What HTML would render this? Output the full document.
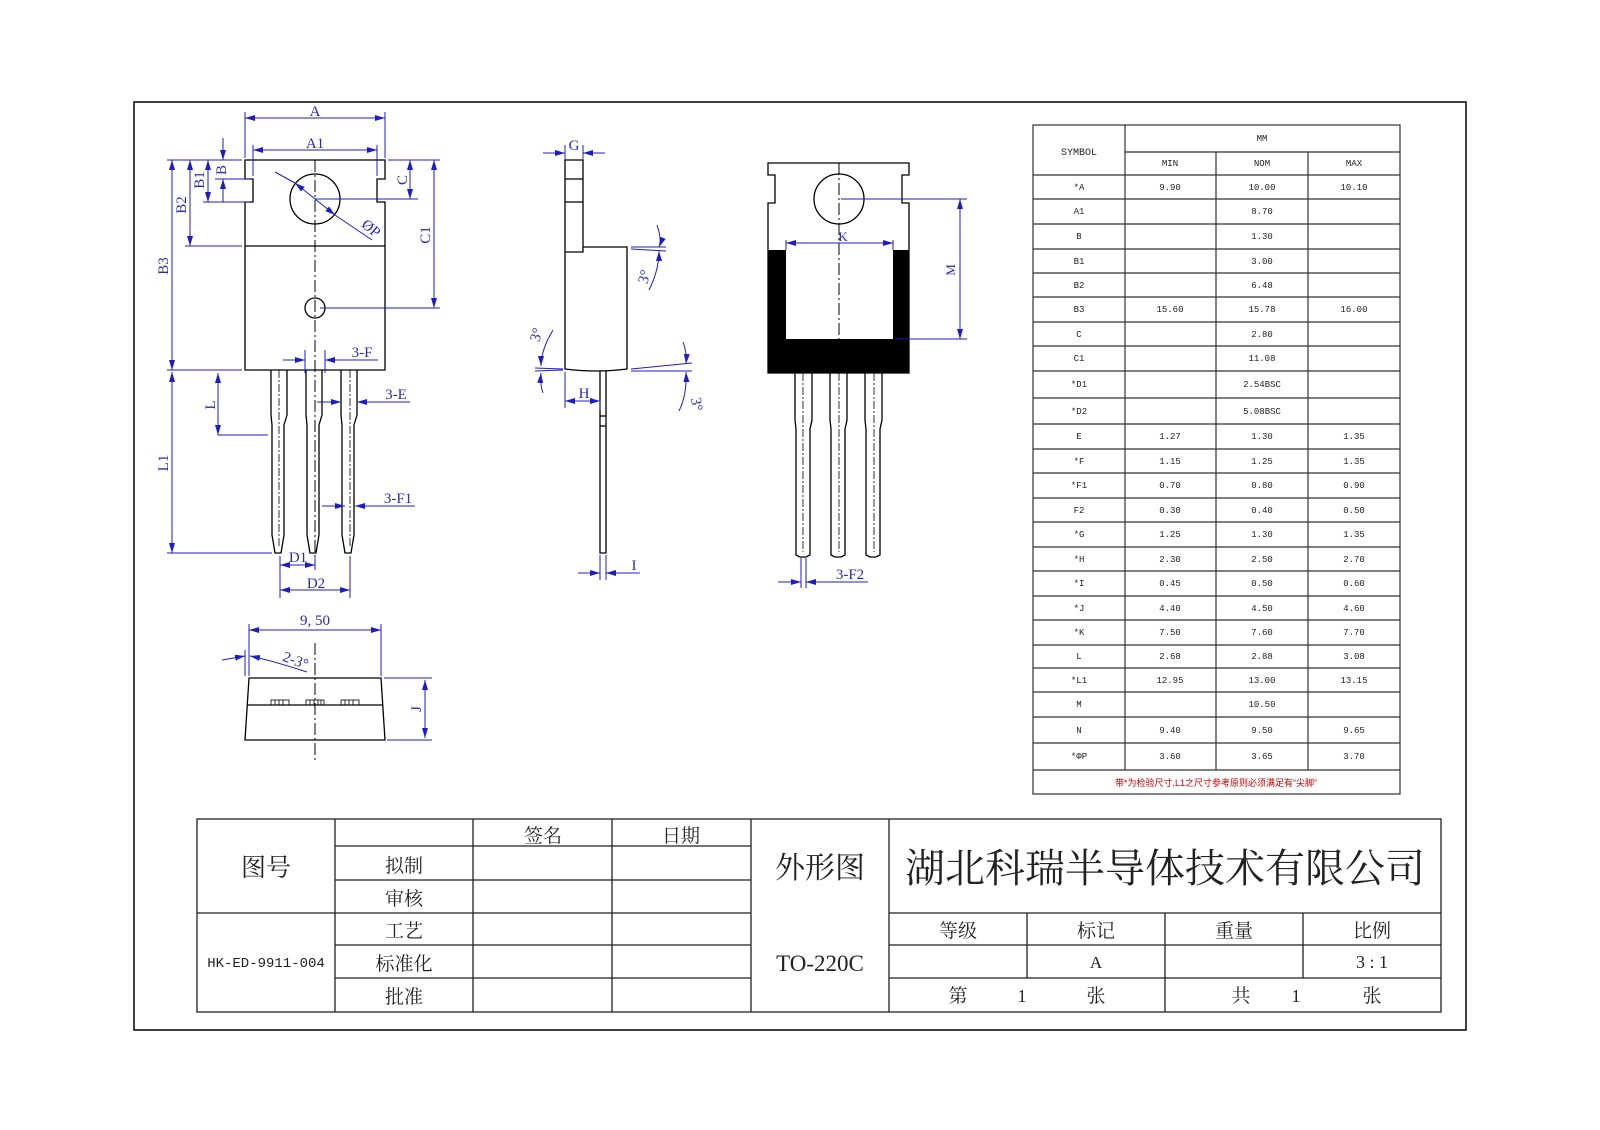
<!DOCTYPE html>
<html><head><meta charset="utf-8"><style>
html,body{margin:0;padding:0;background:#fff}
svg{display:block}
.k{stroke:#000;fill:none;stroke-width:1.3}
.b{stroke:#1c1cc8;fill:none;stroke-width:1}
.bt{fill:#2a2ab8;font-family:"Liberation Serif","Noto Serif CJK SC",serif;font-size:15px}
.c{stroke:#000;stroke-width:1;stroke-dasharray:12 3 2 3;fill:none}
.t{font-family:"Liberation Mono","Noto Sans CJK SC",monospace;font-size:9px;fill:#222;text-anchor:middle}
.z{font-family:"Liberation Serif","Noto Serif CJK SC",serif;fill:#222;text-anchor:middle}
</style></head><body>
<svg width="1600" height="1130" viewBox="0 0 1600 1130" xmlns="http://www.w3.org/2000/svg">
<defs>
<marker id="a" viewBox="0 0 10 6" refX="10" refY="3" markerWidth="10" markerHeight="6" orient="auto-start-reverse" markerUnits="userSpaceOnUse"><path d="M0,0 L10,3 L0,6z" fill="#1c1cc8"/></marker>
</defs>
<rect x="134" y="102" width="1332" height="928" fill="none" stroke="#000" stroke-width="1.5"/>

<!-- FRONT VIEW -->
<path class="k" d="M245,160 H385 V179 H377 V202 H385 V370 H245 V202 H253 V179 H245 Z"/>
<line class="k" x1="245" y1="246" x2="385" y2="246"/>
<circle class="k" cx="315" cy="199" r="25"/>
<circle class="k" cx="315" cy="308" r="10"/>
<line class="c" x1="315" y1="160" x2="315" y2="560"/>
<g class="k">
<path d="M271,370 V415 L272,425 V535 L275,553 H281 L284,535 V425 L287,415 V370"/>
<path d="M306,370 V415 L307,425 V535 L310,553 H316 L319,535 V425 L322,415 V370"/>
<path d="M341,370 V415 L342,425 V535 L345,553 H351 L354,535 V425 L357,415 V370"/>
</g>
<g stroke="#000" stroke-width="0.8" stroke-dasharray="8 2 2 2"><line x1="279" y1="370" x2="279" y2="548"/><line x1="350" y1="370" x2="350" y2="548"/></g>
<!-- front dims -->
<g class="b">
<line x1="245" y1="112" x2="245" y2="158"/><line x1="385" y1="112" x2="385" y2="158"/>
<line x1="245" y1="118" x2="385" y2="118" marker-start="url(#a)" marker-end="url(#a)"/>
<line x1="253" y1="145" x2="253" y2="176"/><line x1="377" y1="145" x2="377" y2="176"/>
<line x1="253" y1="150" x2="377" y2="150" marker-start="url(#a)" marker-end="url(#a)"/>
<line x1="167" y1="160" x2="242" y2="160"/><line x1="215" y1="179" x2="250" y2="179"/><line x1="203" y1="202" x2="250" y2="202"/><line x1="185" y1="246" x2="242" y2="246"/><line x1="167" y1="370" x2="242" y2="370"/>
<line x1="223" y1="138" x2="223" y2="160" marker-end="url(#a)"/><line x1="223" y1="202" x2="223" y2="179" marker-end="url(#a)"/>
<line x1="208" y1="160" x2="208" y2="202" marker-start="url(#a)" marker-end="url(#a)"/>
<line x1="190" y1="160" x2="190" y2="246" marker-start="url(#a)" marker-end="url(#a)"/>
<line x1="172" y1="160" x2="172" y2="370" marker-start="url(#a)" marker-end="url(#a)"/>
<line x1="388" y1="160" x2="440" y2="160"/><line x1="315" y1="199" x2="418" y2="199"/><line x1="320" y1="308" x2="440" y2="308"/>
<line x1="410" y1="160" x2="410" y2="199" marker-start="url(#a)" marker-end="url(#a)"/>
<line x1="434" y1="160" x2="434" y2="308" marker-start="url(#a)" marker-end="url(#a)"/>
<line x1="275" y1="172" x2="295" y2="183"/><line x1="295" y1="183" x2="335" y2="215" marker-start="url(#a)" marker-end="url(#a)"/><line x1="335" y1="215" x2="372" y2="240"/>
<line x1="305" y1="350" x2="305" y2="373"/><line x1="325" y1="350" x2="325" y2="373"/>
<line x1="283" y1="360" x2="305" y2="360" marker-end="url(#a)"/><line x1="350" y1="360" x2="325" y2="360" marker-end="url(#a)"/><line x1="325" y1="360" x2="378" y2="360"/>
<line x1="218" y1="373" x2="218" y2="435" marker-start="url(#a)" marker-end="url(#a)"/><line x1="218" y1="435" x2="268" y2="435"/>
<line x1="317" y1="402" x2="341" y2="402" marker-end="url(#a)"/><line x1="410" y1="402" x2="357" y2="402" marker-end="url(#a)"/>
<line x1="322" y1="506" x2="345" y2="506" marker-end="url(#a)"/><line x1="415" y1="506" x2="355" y2="506" marker-end="url(#a)"/>
<line x1="167" y1="553" x2="272" y2="553"/>
<line x1="172" y1="372" x2="172" y2="553" marker-start="url(#a)" marker-end="url(#a)"/>
<line x1="280" y1="556" x2="280" y2="598"/><line x1="315" y1="556" x2="315" y2="570"/><line x1="350" y1="556" x2="350" y2="598"/>
<line x1="280" y1="565" x2="315" y2="565" marker-start="url(#a)" marker-end="url(#a)"/>
<line x1="280" y1="590" x2="350" y2="590" marker-start="url(#a)" marker-end="url(#a)"/>
</g>
<g class="bt">
<text x="315" y="116" text-anchor="middle">A</text>
<text x="315" y="148" text-anchor="middle">A1</text>
<text x="220" y="176" transform="rotate(-90 220 170)" text-anchor="middle">B</text>
<text x="204" y="180" transform="rotate(-90 204 180)" text-anchor="middle">B1</text>
<text x="186" y="205" transform="rotate(-90 186 205)" text-anchor="middle">B2</text>
<text x="168" y="266" transform="rotate(-90 168 266)" text-anchor="middle">B3</text>
<text x="407" y="180" transform="rotate(-90 407 180)" text-anchor="middle">C</text>
<text x="430" y="235" transform="rotate(-90 430 235)" text-anchor="middle">C1</text>
<text x="368" y="232" transform="rotate(40 368 232)" text-anchor="middle">ØP</text>
<text x="362" y="357" text-anchor="middle">3-F</text>
<text x="396" y="399" text-anchor="middle">3-E</text>
<text x="398" y="503" text-anchor="middle">3-F1</text>
<text x="215" y="405" transform="rotate(-90 215 405)" text-anchor="middle">L</text>
<text x="168" y="463" transform="rotate(-90 168 463)" text-anchor="middle">L1</text>
<text x="298" y="562" text-anchor="middle">D1</text>
<text x="316" y="588" text-anchor="middle">D2</text>
<text x="315" y="625" text-anchor="middle">9, 50</text>
<text x="294" y="665" transform="rotate(20 294 665)" text-anchor="middle">2-3°</text>
<text x="421" y="709" transform="rotate(-90 421 709)" text-anchor="middle">J</text>
</g>

<!-- BOTTOM VIEW -->
<path class="k" d="M249,678 H381 L385,740 H245 Z"/>
<line class="k" x1="247" y1="705" x2="383" y2="705" stroke-width="0.8"/>
<g stroke="#000" stroke-width="0.8" fill="none">
<rect x="271" y="700" width="18" height="5"/><rect x="306" y="700" width="18" height="5"/><rect x="341" y="700" width="18" height="5"/>
<path d="M275,700v5M279,700v5M283,700v5M310,700v5M314,700v5M318,700v5M321,700v5M345,700v5M349,700v5M353,700v5"/>
</g>
<line class="c" x1="315" y1="643" x2="315" y2="763"/>
<g class="b">
<line x1="249" y1="624" x2="249" y2="676"/><line x1="381" y1="624" x2="381" y2="676"/><line x1="245" y1="650" x2="245" y2="676"/>
<line x1="249" y1="630" x2="381" y2="630" marker-start="url(#a)" marker-end="url(#a)"/>
<line x1="222" y1="660" x2="245" y2="656" marker-end="url(#a)"/><path d="M250,656 Q270,660 307,672" marker-start="url(#a)"/>
<line x1="384" y1="678" x2="432" y2="678"/><line x1="387" y1="740" x2="432" y2="740"/>
<line x1="425" y1="680" x2="425" y2="738" marker-start="url(#a)" marker-end="url(#a)"/>
</g>

<!-- SIDE VIEW -->
<path class="k" d="M565,160 H583 V252 H565 Z"/>
<line class="k" x1="565" y1="179" x2="583" y2="179"/><line class="k" x1="565" y1="202" x2="583" y2="202"/>
<path class="k" d="M565,252 V369 Q596,373 627,369 V247 H583"/>
<path class="k" d="M600,371 V553 H606 V371"/>
<line class="k" x1="600" y1="416" x2="606" y2="416" stroke-width="0.8"/><line class="k" x1="600" y1="426" x2="606" y2="426" stroke-width="0.8"/>
<g class="b">
<line x1="543" y1="153" x2="565" y2="153" marker-end="url(#a)"/><line x1="605" y1="153" x2="583" y2="153" marker-end="url(#a)"/>
<line x1="565" y1="145" x2="565" y2="160"/><line x1="583" y1="145" x2="583" y2="160"/>
<line x1="631" y1="247" x2="666" y2="247"/><line x1="631" y1="249" x2="666" y2="251"/>
<path d="M657,225 Q662,240 659,247" marker-end="url(#a)"/><path d="M649,290 Q659,270 659,251" marker-end="url(#a)"/>
<line x1="535" y1="368" x2="563" y2="369"/><line x1="535" y1="371" x2="563" y2="370"/>
<path d="M553,330 Q541,350 541,366" marker-end="url(#a)"/><path d="M543,393 Q540,385 541,373" marker-end="url(#a)"/>
<line x1="631" y1="369" x2="692" y2="363"/><line x1="631" y1="371" x2="692" y2="371"/>
<path d="M683,342 Q687,352 686,364" marker-end="url(#a)"/><path d="M679,411 Q687,395 686,372" marker-end="url(#a)"/>
<line x1="565" y1="372" x2="565" y2="408"/><line x1="600" y1="400" x2="600" y2="410"/>
<line x1="565" y1="401" x2="600" y2="401" marker-start="url(#a)" marker-end="url(#a)"/>
<line x1="600" y1="555" x2="600" y2="580"/><line x1="606" y1="555" x2="606" y2="580"/>
<line x1="578" y1="573" x2="600" y2="573" marker-end="url(#a)"/><line x1="640" y1="573" x2="606" y2="573" marker-end="url(#a)"/>
</g>
<g class="bt">
<text x="574" y="150" text-anchor="middle">G</text>
<text x="649" y="278" transform="rotate(-75 649 278)" text-anchor="middle">3°</text>
<text x="541" y="336" transform="rotate(-75 541 336)" text-anchor="middle">3°</text>
<text x="692" y="405" transform="rotate(80 692 405)" text-anchor="middle">3°</text>
<text x="584" y="398" text-anchor="middle">H</text>
<text x="634" y="570" text-anchor="middle">I</text>
</g>

<!-- BACK VIEW -->
<path class="k" d="M768,163 H909 V175 H902 V203 H909 V373 H768 V203 H775 V175 H768 Z"/>
<circle class="k" cx="839" cy="199" r="25"/>
<path d="M768,250 H786 V339 H893 V250 H909 V373 H768 Z" fill="#000"/>
<line class="c" x1="839" y1="163" x2="839" y2="339"/>
<g class="k">
<path d="M795,373 V420 L796,429 V555 L800,557 H806 L810,555 V429 L812,420 V373"/>
<path d="M830,373 V420 L831,429 V555 L835,557 H841 L845,555 V429 L847,420 V373"/>
<path d="M865,373 V420 L866,429 V555 L870,557 H876 L880,555 V429 L882,420 V373"/>
</g>
<g stroke="#000" stroke-width="0.8" stroke-dasharray="8 2 2 2"><line x1="803" y1="373" x2="803" y2="552"/><line x1="839" y1="373" x2="839" y2="552"/><line x1="874" y1="373" x2="874" y2="552"/></g>
<g class="b">
<line x1="786" y1="243" x2="893" y2="243" marker-start="url(#a)" marker-end="url(#a)"/>
<line x1="786" y1="240" x2="786" y2="250"/><line x1="893" y1="240" x2="893" y2="250"/>
<line x1="841" y1="199" x2="967" y2="199"/><line x1="895" y1="339" x2="967" y2="339"/>
<line x1="960" y1="199" x2="960" y2="339" marker-start="url(#a)" marker-end="url(#a)"/>
<line x1="801" y1="558" x2="801" y2="588"/><line x1="806" y1="558" x2="806" y2="588"/>
<line x1="778" y1="582" x2="801" y2="582" marker-end="url(#a)"/><line x1="868" y1="582" x2="806" y2="582" marker-end="url(#a)"/>
</g>
<g class="bt">
<text x="843" y="241" text-anchor="middle" font-size="13">K</text>
<text x="955" y="270" transform="rotate(-90 955 270)" text-anchor="middle" font-size="13">M</text>
<text x="850" y="579" text-anchor="middle">3-F2</text>
</g>

<!-- TABLE -->
<g stroke="#333" stroke-width="1.2" fill="none">
<rect x="1033" y="125" width="367" height="669"/>
<line x1="1125" y1="125" x2="1125" y2="770"/>
<line x1="1125" y1="152" x2="1400" y2="152"/>
<line x1="1216" y1="152" x2="1216" y2="770"/><line x1="1308" y1="152" x2="1308" y2="770"/>
<path d="M1033,175H1400M1033,199H1400M1033,224H1400M1033,249H1400M1033,273H1400M1033,297H1400M1033,322H1400M1033,346H1400M1033,371H1400M1033,398H1400M1033,424H1400M1033,449H1400M1033,473H1400M1033,498H1400M1033,522H1400M1033,547H1400M1033,571H1400M1033,596H1400M1033,620H1400M1033,645H1400M1033,668H1400M1033,692H1400M1033,717H1400M1033,743H1400M1033,770H1400"/>
</g>
<g class="t">
<text x="1079" y="155" font-size="10">SYMBOL</text>
<text x="1262" y="141">MM</text>
<text x="1170" y="166">MIN</text><text x="1262" y="166">NOM</text><text x="1354" y="166">MAX</text>
</g>
<g class="t" id="rows"></g>
<text x="1216" y="786" font-family="Liberation Sans,'Noto Sans CJK SC',sans-serif" font-size="9" fill="#c00" text-anchor="middle">带*为检验尺寸,L1之尺寸参考原则必须满足有“尖脚”</text>

<!-- TITLE BLOCK -->
<g stroke="#222" stroke-width="1.3" fill="none">
<rect x="197" y="819" width="1244" height="193"/>
<line x1="335" y1="819" x2="335" y2="1012"/><line x1="473" y1="819" x2="473" y2="1012"/><line x1="612" y1="819" x2="612" y2="1012"/><line x1="751" y1="819" x2="751" y2="1012"/><line x1="889" y1="819" x2="889" y2="1012"/>
<line x1="335" y1="846" x2="751" y2="846"/><line x1="335" y1="880" x2="751" y2="880"/>
<line x1="197" y1="913" x2="751" y2="913"/><line x1="889" y1="913" x2="1441" y2="913"/>
<line x1="335" y1="945" x2="751" y2="945"/><line x1="335" y1="978" x2="751" y2="978"/>
<line x1="889" y1="945" x2="1441" y2="945"/><line x1="889" y1="978" x2="1441" y2="978"/>
<line x1="1027" y1="913" x2="1027" y2="978"/><line x1="1165" y1="913" x2="1165" y2="1012"/><line x1="1303" y1="913" x2="1303" y2="978"/>
</g>
<g class="z">
<text x="266" y="876" font-size="25">图号</text>
<text x="266" y="967" font-size="14" font-family="Liberation Mono,monospace">HK-ED-9911-004</text>
<text x="543" y="842" font-size="19">签名</text><text x="681" y="842" font-size="19">日期</text>
<text x="404" y="872" font-size="19">拟制</text><text x="404" y="905" font-size="19">审核</text>
<text x="404" y="937" font-size="19">工艺</text><text x="404" y="970" font-size="19">标准化</text><text x="404" y="1003" font-size="19">批准</text>
<text x="820" y="878" font-size="30">外形图</text>
<text x="820" y="971" font-size="23">TO-220C</text>
<text x="1165" y="882" font-size="40">湖北科瑞半导体技术有限公司</text>
<text x="958" y="937" font-size="19">等级</text><text x="1096" y="937" font-size="19">标记</text><text x="1234" y="937" font-size="19">重量</text><text x="1372" y="937" font-size="19">比例</text>
<text x="1096" y="968" font-size="17">A</text><text x="1372" y="968" font-size="18">3 : 1</text>
<text x="958" y="1002" font-size="19">第</text><text x="1022" y="1002" font-size="18">1</text><text x="1096" y="1002" font-size="19">张</text>
<text x="1241" y="1002" font-size="19">共</text><text x="1296" y="1002" font-size="18">1</text><text x="1372" y="1002" font-size="19">张</text>
</g>
<g class="t">
<text x="1079" y="190">*A</text><text x="1170" y="190">9.90</text><text x="1262" y="190">10.00</text><text x="1354" y="190">10.10</text>
<text x="1079" y="214">A1</text><text x="1262" y="214">8.70</text>
<text x="1079" y="239">B</text><text x="1262" y="239">1.30</text>
<text x="1079" y="264">B1</text><text x="1262" y="264">3.00</text>
<text x="1079" y="288">B2</text><text x="1262" y="288">6.48</text>
<text x="1079" y="312">B3</text><text x="1170" y="312">15.60</text><text x="1262" y="312">15.78</text><text x="1354" y="312">16.00</text>
<text x="1079" y="337">C</text><text x="1262" y="337">2.80</text>
<text x="1079" y="361">C1</text><text x="1262" y="361">11.08</text>
<text x="1079" y="387">*D1</text><text x="1262" y="387">2.54BSC</text>
<text x="1079" y="414">*D2</text><text x="1262" y="414">5.08BSC</text>
<text x="1079" y="439">E</text><text x="1170" y="439">1.27</text><text x="1262" y="439">1.30</text><text x="1354" y="439">1.35</text>
<text x="1079" y="464">*F</text><text x="1170" y="464">1.15</text><text x="1262" y="464">1.25</text><text x="1354" y="464">1.35</text>
<text x="1079" y="488">*F1</text><text x="1170" y="488">0.70</text><text x="1262" y="488">0.80</text><text x="1354" y="488">0.90</text>
<text x="1079" y="513">F2</text><text x="1170" y="513">0.30</text><text x="1262" y="513">0.40</text><text x="1354" y="513">0.50</text>
<text x="1079" y="537">*G</text><text x="1170" y="537">1.25</text><text x="1262" y="537">1.30</text><text x="1354" y="537">1.35</text>
<text x="1079" y="562">*H</text><text x="1170" y="562">2.30</text><text x="1262" y="562">2.50</text><text x="1354" y="562">2.70</text>
<text x="1079" y="586">*I</text><text x="1170" y="586">0.45</text><text x="1262" y="586">0.50</text><text x="1354" y="586">0.60</text>
<text x="1079" y="611">*J</text><text x="1170" y="611">4.40</text><text x="1262" y="611">4.50</text><text x="1354" y="611">4.60</text>
<text x="1079" y="635">*K</text><text x="1170" y="635">7.50</text><text x="1262" y="635">7.60</text><text x="1354" y="635">7.70</text>
<text x="1079" y="659">L</text><text x="1170" y="659">2.68</text><text x="1262" y="659">2.88</text><text x="1354" y="659">3.08</text>
<text x="1079" y="683">*L1</text><text x="1170" y="683">12.95</text><text x="1262" y="683">13.00</text><text x="1354" y="683">13.15</text>
<text x="1079" y="707">M</text><text x="1262" y="707">10.50</text>
<text x="1079" y="733">N</text><text x="1170" y="733">9.40</text><text x="1262" y="733">9.50</text><text x="1354" y="733">9.65</text>
<text x="1079" y="759">*ΦP</text><text x="1170" y="759">3.60</text><text x="1262" y="759">3.65</text><text x="1354" y="759">3.70</text>
</g>
</svg>
</body></html>
